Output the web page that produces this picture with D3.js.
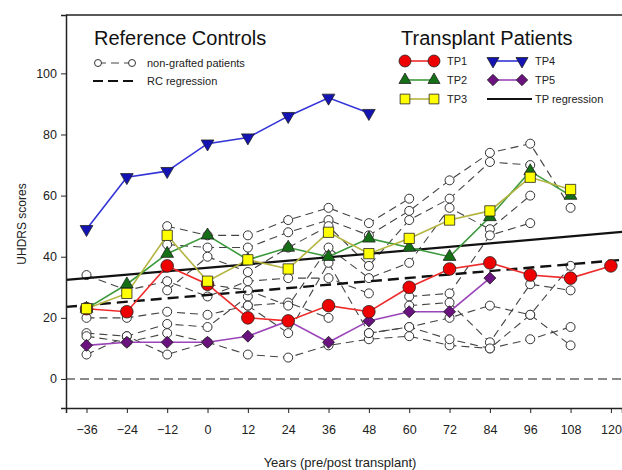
<!DOCTYPE html>
<html>
<head>
<meta charset="utf-8">
<script src="https://cdn.jsdelivr.net/npm/d3@7"></script>
<style>
  body { margin: 0; background: #fff; }
  svg { font-family: "Liberation Sans", Arial, sans-serif; }
</style>
</head>
<body>
<div id="chart"></div>
<script>
// months relative to transplant
var months = [-36, -24, -12, 0, 12, 24, 36, 48, 60, 72, 84, 96, 108, 120];
var yTicks = [0, 20, 40, 60, 80, 100];

// transplant patients (null = no visit)
var tp1 = [23, 22, 37, 31, 20, 19, 24, 22, 30, 36, 38, 34, 33, 37];
var tp2 = [23, 31, 41, 47, 39, 43, 40, 46, 43, 40, 53, 68, 60, null];
var tp3 = [23, 28, 47, 32, 39, 36, 48, 41, 46, 52, 55, 66, 62, null];
var tp4 = [49, 66, 68, 77, 79, 86, 92, 87, null, null, null, null, null, null];
var tp5 = [11, 12, 12, 12, 14, 19, 12, 19, 22, 22, 33, null, null, null];

// reference controls, [month, score]
var rc1 = [[-36, 34], [-24, 29], [-12, 32], [0, 27], [12, 32], [24, 33], [36, 33], [48, 28]];
var rc2 = [[-36, 20], [-24, 20], [-12, 22], [0, 21], [12, 24], [24, 25], [36, 20]];
var rc3 = [[-36, 15], [-24, 14], [-12, 18], [0, 17], [12, 27]];
var rc4 = [[-36, 8], [-24, 14], [-12, 8], [0, 12], [12, 8], [24, 7], [36, 11], [48, 13], [60, 14], [72, 11], [84, 10], [96, 13], [108, 17]];
var rc5 = [[-12, 50], [0, 47], [12, 47], [24, 52], [36, 56], [48, 51], [60, 59]];
var rc6 = [[-12, 44], [0, 43], [12, 43], [24, 48], [36, 52], [48, 47], [60, 55], [72, 65], [84, 74], [96, 77], [108, 56]];
var rc7 = [[-12, 29], [0, 40], [12, 35], [24, 43], [36, 50], [48, 37], [60, 52], [72, 59], [84, 71], [96, 70]];
var rc8 = [[0, 31], [12, 29], [24, 24], [36, 43], [48, 33], [60, 38], [72, 56], [84, 49], [96, 60]];
var rc9 = [[12, 24], [24, 15], [36, 38], [48, 15], [60, 17], [72, 20], [84, 24], [96, 21], [108, 11]];
var rc10 = [[60, 27], [72, 28], [84, 47], [96, 51]];
var rc11 = [[60, 24], [72, 25], [84, 12], [96, 31], [108, 29]];
var rc12 = [[-36, 14], [-24, 12], [-12, 15], [0, 12]];
var rc13 = [[48, 15], [60, 17], [72, 13], [84, 10], [96, 21], [108, 37]];

// regression lines [intercept, slope]
var rcFit = [27.5, 0.093];
var tpFit = [36.4, 0.095];

var width = 622, height = 470;
var x = d3.scaleLinear().domain([-42.1, 123.3]).range([66, 622]);
var y = d3.scaleLinear().domain([-9.5, 119.1]).range([408, 15]);

var svg = d3.select('#chart').append('svg')
  .attr('width', width).attr('height', height);

// frame top line
svg.append('line').attr('x1', 66).attr('x2', 622).attr('y1', 15).attr('y2', 15)
  .attr('stroke', '#222').attr('stroke-width', 1.5);

// zero line
svg.append('line')
  .attr('x1', x(-42.1)).attr('x2', x(123.3))
  .attr('y1', y(0)).attr('y2', y(0))
  .attr('stroke', '#666').attr('stroke-width', 1.5).attr('stroke-dasharray', '9,5');

var line = d3.line()
  .defined(function (d) { return d[1] !== null; })
  .x(function (d) { return x(d[0]); })
  .y(function (d) { return y(d[1]); });

// controls
var controls = [rc1, rc2, rc3, rc4, rc5, rc6, rc7, rc8, rc9, rc10, rc11, rc12, rc13];
controls.forEach(function (c) {
  svg.append('path').datum(c).attr('d', line)
    .attr('fill', 'none').attr('stroke', '#444').attr('stroke-width', 1.1)
    .attr('stroke-dasharray', '8,5');
});
controls.forEach(function (c) {
  svg.selectAll(null).data(c).enter().append('circle')
    .attr('cx', function (d) { return x(d[0]); })
    .attr('cy', function (d) { return y(d[1]); })
    .attr('r', 4.5)
    .attr('fill', '#fff').attr('stroke', '#333').attr('stroke-width', 1);
});

// regressions
function fitLine(f) {
  var d = x.domain();
  return [[d[0], f[0] + f[1] * d[0]], [d[1], f[0] + f[1] * d[1]]];
}
svg.append('path').datum(fitLine(rcFit)).attr('d', line)
  .attr('fill', 'none').attr('stroke', '#111').attr('stroke-width', 2.4)
  .attr('stroke-dasharray', '11,6');
svg.append('path').datum(fitLine(tpFit)).attr('d', line)
  .attr('fill', 'none').attr('stroke', '#111').attr('stroke-width', 2.2);

// transplant patients
var series = [
  { vals: tp4, line: '#3434d8', fill: '#1414b4', shape: d3.symbolTriangle, rot: 180, size: 70 },
  { vals: tp5, line: '#9a44b8', fill: '#6a127e', shape: d3.symbolSquare, rot: 45, size: 72 },
  { vals: tp1, line: '#ee2a2a', fill: '#ee0000', shape: d3.symbolCircle, rot: 0, size: 125 },
  { vals: tp2, line: '#3c9a3c', fill: '#157015', shape: d3.symbolTriangle, rot: 0, size: 70 },
  { vals: tp3, line: '#b4b440', fill: '#ffff00', shape: d3.symbolSquare, rot: 0, size: 105 }
];
series.forEach(function (s) {
  var pts = months.map(function (m, i) { return [m, s.vals[i]]; });
  svg.append('path').datum(pts).attr('d', line)
    .attr('fill', 'none').attr('stroke', s.line).attr('stroke-width', 1.6);
});
series.forEach(function (s) {
  var pts = months.map(function (m, i) { return [m, s.vals[i]]; })
    .filter(function (d) { return d[1] !== null; });
  svg.selectAll(null).data(pts).enter().append('path')
    .attr('d', d3.symbol().type(s.shape).size(s.size))
    .attr('transform', function (d) {
      return 'translate(' + x(d[0]) + ',' + y(d[1]) + ') rotate(' + s.rot + ')';
    })
    .attr('fill', s.fill).attr('stroke', '#222').attr('stroke-width', 0.8);
});

// axes
var xAxis = svg.append('g').attr('transform', 'translate(0,408)')
  .call(d3.axisBottom(x).tickValues(months).tickSize(5).tickPadding(12).tickFormat(d3.format('d')));
xAxis.select('.domain').attr('stroke', '#222').attr('stroke-width', 1.5);
var yAxis = svg.append('g').attr('transform', 'translate(66,0)')
  .call(d3.axisLeft(y).tickValues(yTicks).tickSize(5).tickPadding(4));
yAxis.select('.domain').attr('stroke', '#222').attr('stroke-width', 1.5);
svg.selectAll('.tick text').attr('font-size', 12.5).attr('fill', '#222')
  .attr('font-family', '"Liberation Sans", Arial, sans-serif');
svg.selectAll('.tick line').attr('stroke', '#222');

svg.append('text').attr('x', 340).attr('y', 467).attr('text-anchor', 'middle')
  .attr('font-size', 13).attr('fill', '#222').text('Years (pre/post transplant)');
svg.append('text').attr('transform', 'translate(26,224) rotate(-90)')
  .attr('text-anchor', 'middle').attr('font-size', 12).attr('fill', '#222').text('UHDRS scores');

// legend: reference controls
svg.append('text').attr('x', 94).attr('y', 45).attr('font-size', 20).attr('fill', '#111')
  .text('Reference Controls');
svg.append('line').attr('x1', 98).attr('x2', 132).attr('y1', 63).attr('y2', 63)
  .attr('stroke', '#444').attr('stroke-dasharray', '8,5');
[98, 132].forEach(function (cx) {
  svg.append('circle').attr('cx', cx).attr('cy', 63).attr('r', 3.5)
    .attr('fill', '#fff').attr('stroke', '#333');
});
svg.append('text').attr('x', 147).attr('y', 67).attr('font-size', 11).attr('fill', '#222')
  .text('non-grafted patients');
svg.append('line').attr('x1', 93).attr('x2', 137).attr('y1', 81).attr('y2', 81)
  .attr('stroke', '#111').attr('stroke-width', 2.2).attr('stroke-dasharray', '10,5');
svg.append('text').attr('x', 147).attr('y', 85).attr('font-size', 11).attr('fill', '#222')
  .text('RC regression');

// legend: transplant patients
svg.append('text').attr('x', 401).attr('y', 45).attr('font-size', 20).attr('fill', '#111')
  .text('Transplant Patients');
var legendItems = [
  { s: series[2], label: 'TP1', x0: 405, yy: 61 },
  { s: series[3], label: 'TP2', x0: 405, yy: 80 },
  { s: series[4], label: 'TP3', x0: 405, yy: 99 },
  { s: series[0], label: 'TP4', x0: 493, yy: 61 },
  { s: series[1], label: 'TP5', x0: 493, yy: 80 }
];
legendItems.forEach(function (it) {
  svg.append('line').attr('x1', it.x0).attr('x2', it.x0 + 29).attr('y1', it.yy).attr('y2', it.yy)
    .attr('stroke', it.s.line).attr('stroke-width', 1.6);
  [it.x0, it.x0 + 29].forEach(function (mx) {
    svg.append('path').attr('d', d3.symbol().type(it.s.shape).size(it.s.size * 0.9))
      .attr('transform', 'translate(' + mx + ',' + it.yy + ') rotate(' + it.s.rot + ')')
      .attr('fill', it.s.fill).attr('stroke', '#222').attr('stroke-width', 0.8);
  });
  svg.append('text').attr('x', it.x0 + 42).attr('y', it.yy + 4).attr('font-size', 11)
    .attr('fill', '#222').text(it.label);
});
svg.append('line').attr('x1', 487).attr('x2', 532).attr('y1', 99).attr('y2', 99)
  .attr('stroke', '#111').attr('stroke-width', 2);
svg.append('text').attr('x', 535).attr('y', 103).attr('font-size', 11).attr('fill', '#222')
  .text('TP regression');
</script>
</body>
</html>
